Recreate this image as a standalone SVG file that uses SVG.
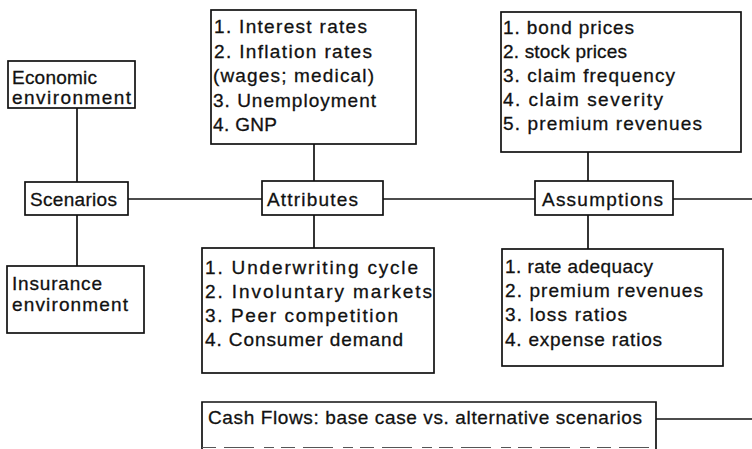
<svg xmlns="http://www.w3.org/2000/svg" width="752" height="449" viewBox="0 0 752 449">
<style>
.box{fill:#fff;stroke:#111;stroke-width:1.7}
.ln{stroke:#111;stroke-width:1.7;fill:none}
text{font-family:"Liberation Sans",Arial,sans-serif;font-size:19px;fill:#111;stroke:#111;stroke-width:0.3}
</style>
<rect width="752" height="449" fill="#fff"/>
<g id="connectors">
<line class="ln" x1="77" y1="108" x2="77" y2="182"/>
<line class="ln" x1="77" y1="215" x2="77" y2="266"/>
<line class="ln" x1="128" y1="199" x2="262" y2="199"/>
<line class="ln" x1="383" y1="199" x2="535" y2="199"/>
<line class="ln" x1="673" y1="199" x2="752" y2="199"/>
<line class="ln" x1="314" y1="144" x2="314" y2="181"/>
<line class="ln" x1="314" y1="215" x2="314" y2="248"/>
<line class="ln" x1="588" y1="152" x2="588" y2="181"/>
<line class="ln" x1="588" y1="215" x2="588" y2="249"/>
<line class="ln" x1="656" y1="419" x2="752" y2="419"/>
</g>
<g id="economic">
<rect class="box" x="8" y="61" width="127" height="47"/>
<text x="12" y="84" textLength="85">Economic</text>
<text x="12" y="104" textLength="119">environment</text>
</g>
<g id="scenarios">
<rect class="box" x="25" y="182" width="103" height="33"/>
<text x="30" y="206" textLength="87">Scenarios</text>
</g>
<g id="insurance">
<rect class="box" x="7" y="266" width="137" height="67"/>
<text x="12" y="290" textLength="90">Insurance</text>
<text x="12" y="311" textLength="116">environment</text>
</g>
<g id="economic-attributes">
<rect class="box" x="211" y="10" width="205" height="134"/>
<text x="214" y="33" textLength="153">1.  Interest  rates</text>
<text x="214" y="58" textLength="158">2.  Inflation  rates</text>
<text x="213" y="82" textLength="161">(wages;  medical)</text>
<text x="213" y="107" textLength="163">3.  Unemployment</text>
<text x="213" y="131" textLength="64">4. GNP</text>
</g>
<g id="attributes">
<rect class="box" x="262" y="181" width="121" height="34"/>
<text x="267" y="206" textLength="91">Attributes</text>
</g>
<g id="insurance-attributes">
<rect class="box" x="202" y="248" width="232" height="125"/>
<text x="205" y="274" textLength="213">1.  Underwriting  cycle</text>
<text x="205" y="298" textLength="227">2.  Involuntary  markets</text>
<text x="205" y="322" textLength="193">3.  Peer  competition</text>
<text x="205" y="346" textLength="198">4. Consumer demand</text>
</g>
<g id="economic-assumptions">
<rect class="box" x="501" y="12" width="240" height="140"/>
<text x="503" y="34" textLength="131">1. bond prices</text>
<text x="503" y="58" textLength="124">2.  stock prices</text>
<text x="503" y="82" textLength="172">3.  claim  frequency</text>
<text x="503" y="106" textLength="160">4.  claim  severity</text>
<text x="503" y="130" textLength="199">5.  premium  revenues</text>
</g>
<g id="assumptions">
<rect class="box" x="535" y="181" width="138" height="34"/>
<text x="542" y="206" textLength="121">Assumptions</text>
</g>
<g id="insurance-assumptions">
<rect class="box" x="502" y="249" width="221" height="117"/>
<text x="505" y="273" textLength="148">1. rate adequacy</text>
<text x="505" y="297" textLength="198">2.  premium  revenues</text>
<text x="505" y="321" textLength="122">3.  loss  ratios</text>
<text x="505" y="346" textLength="157">4.  expense  ratios</text>
</g>
<g id="cash-flows">
<path class="ln" d="M202,449 V402 H656 V449"/>
<line x1="202" y1="447.5" x2="656" y2="447.5" stroke="#555" stroke-width="1.2" stroke-dasharray="14 8 30 10 10 7"/>
<text x="208" y="424" textLength="434">Cash Flows: base case vs. alternative scenarios</text>
</g>
</svg>
